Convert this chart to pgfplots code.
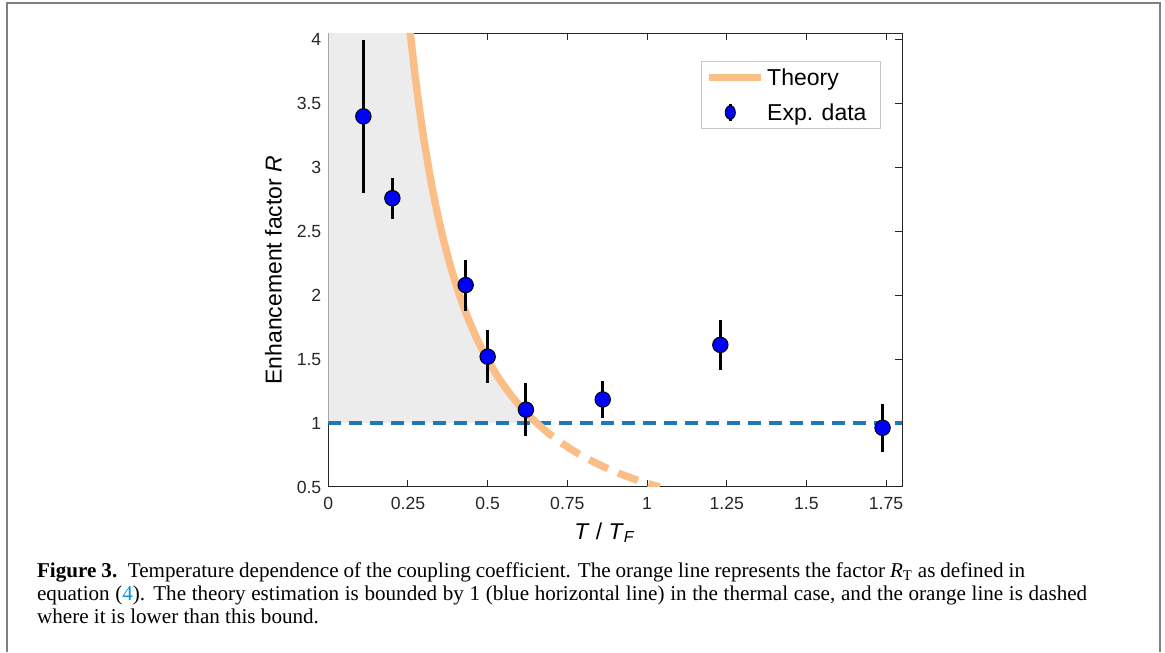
\documentclass[border=0pt]{standalone}
\usepackage{fontspec}
\setmainfont{Liberation Serif}
\newfontfamily\arial{Liberation Sans}
\usepackage{pgfplots}
\usepackage{pgfplotstable}
\pgfplotsset{compat=1.18}

\definecolor{theory}{RGB}{251,190,135}
\definecolor{mblue}{RGB}{31,119,182}
\definecolor{axisgray}{RGB}{38,38,38}
\definecolor{shade}{RGB}{236,236,236}
\definecolor{framegray}{RGB}{128,128,128}
\definecolor{linkblue}{RGB}{0,150,220}

\pgfplotstableread{
x      y      e
0.110  3.40   0.60
0.201  2.76   0.16
0.431  2.08   0.20
0.500  1.52   0.21
0.620  1.105  0.205
0.861  1.185  0.147
1.230  1.612  0.198
1.739  0.963  0.19
}\expdata

\begin{document}
\begin{tikzpicture}
\useasboundingbox (0pt,0pt) rectangle (582.5pt,326pt);
\draw[framegray, line width=1pt] (3.35pt,0pt) -- (3.35pt,324.35pt) -- (580pt,324.35pt) -- (580pt,0pt);

\begin{axis}[
  at={(164.15pt,82.5pt)}, anchor=south west,
  scale only axis, width=286.85pt, height=226.85pt,
  xmin=0, xmax=1.8, ymin=0.5, ymax=4.05,
  xtick={0,0.25,0.5,0.75,1,1.25,1.5,1.75},
  xticklabels={0,0.25,0.5,0.75,1,1.25,1.5,1.75},
  ytick={0.5,1,1.5,2,2.5,3,3.5,4},
  yticklabels={0.5,1,1.5,2,2.5,3,3.5,4},
  tick align=inside, major tick length=3.3pt,
  axis line style={draw=axisgray, line width=0.5pt},
  every tick/.style={draw=axisgray, line width=0.5pt},
  tick label style={font=\arial\fontsize{8.8}{10}\selectfont, text=axisgray},
  xticklabel style={yshift=-1.5pt},
  ylabel={Enhancement factor \textit{R}},
  ylabel style={font=\arial\fontsize{11.5}{13}\selectfont, at={(axis description cs:-0.0812,0.478)}, anchor=base},
  xlabel={\textit{T} / \textit{T}\textsubscript{\textit{F}}},
  xlabel style={font=\arial\fontsize{11.4}{13}\selectfont, at={(axis description cs:0.482,-0.1153)}, anchor=base},
  legend style={at={(axis description cs:0.9634,0.939)}, anchor=north east,
    draw=gray!45, line width=0.5pt, fill=white,
    font=\arial\fontsize{11.5}{13}\selectfont,
    inner xsep=2pt, inner ysep=1.5pt, row sep=4.5pt,
    nodes={inner xsep=1.5pt, inner ysep=2pt, text height=8.5pt, text depth=0.5pt}},
  legend cell align=left,
]
% shaded region
\addplot[forget plot, fill=shade, draw=none] coordinates {
 (0,1) (0,4.2) (0.2513,4.2) (0.255,4.107) (0.26,3.990) (0.27,3.770) (0.28,3.570)
 (0.29,3.387) (0.30,3.219) (0.32,2.922) (0.34,2.668) (0.36,2.449) (0.38,2.258)
 (0.40,2.091) (0.42,1.943) (0.44,1.812) (0.46,1.695) (0.48,1.590) (0.50,1.496)
 (0.53,1.371) (0.56,1.262) (0.59,1.167) (0.62,1.083) (0.654,1.0)} -- cycle;
% bound line
\addplot[forget plot, mblue, line width=2pt, dash pattern=on 6.3pt off 4.2pt] coordinates {(0,1) (1.8,1)};
% theory solid
\addplot[theory, line width=3.7pt, smooth,
  legend image code/.code={\draw[##1] (0pt,0pt) -- (25.6pt,0pt);}] coordinates {
 (0.2513,4.2) (0.255,4.107) (0.26,3.990) (0.27,3.770) (0.28,3.570)
 (0.29,3.387) (0.30,3.219) (0.32,2.922) (0.34,2.668) (0.36,2.449) (0.38,2.258)
 (0.40,2.091) (0.42,1.943) (0.44,1.812) (0.46,1.695) (0.48,1.590) (0.50,1.496)
 (0.53,1.371) (0.56,1.262) (0.59,1.167) (0.62,1.083) (0.654,1.0)};
% theory dashed
\addplot[forget plot, theory, line width=3.7pt, smooth, dash pattern=on 10.5pt off 5.5pt] coordinates {
 (0.654,1.0) (0.70,0.903) (0.75,0.814) (0.80,0.739) (0.85,0.675) (0.90,0.619)
 (0.95,0.571) (1.00,0.529) (1.04,0.499)};
% error bars
\addplot[forget plot, only marks, mark=none,
  error bars/.cd, y dir=both, y explicit, error mark=none,
  error bar style={draw=black, line width=1.5pt}]
  table[x=x, y=y, y error=e] {\expdata};
% markers
\addplot[only marks, mark=*, mark size=3.85pt,
  mark options={fill=blue, draw=black, line width=0.5pt},
  legend image code/.code={%
    \path[draw=none, fill=none] (0pt,0pt) rectangle (25.6pt,0.1pt);
    \draw[black, line width=1.5pt] (10.5pt,-4.2pt) -- (10.5pt,4.2pt);
    \draw[black, line width=0.5pt, fill=blue] (10.5pt,0pt) ellipse (2.5pt and 3.4pt);}]
  table[x=x, y=y] {\expdata};
\legend{Theory, Exp. data\kern3.5pt}
\end{axis}

\node[anchor=base west, inner sep=0pt, font=\fontsize{10.55}{12}\selectfont] at (18.35pt,37.35pt)
 {\makebox[494pt][s]{\textbf{Figure 3.}\hspace{0.5em}Temperature dependence of the coupling coefficient. The orange line represents the factor \textit{R}\textsubscript{T} as defined in}};
\node[anchor=base west, inner sep=0pt, font=\fontsize{10.55}{12}\selectfont] at (18.35pt,25.65pt)
 {\makebox[525pt][s]{equation (\textcolor{linkblue}{4}). The theory estimation is bounded by 1 (blue horizontal line) in the thermal case, and the orange line is dashed}};
\node[anchor=base west, inner sep=0pt, font=\fontsize{10.55}{12}\selectfont] at (18.35pt,14pt)
 {where it is lower than this bound.};
\end{tikzpicture}
\end{document}
